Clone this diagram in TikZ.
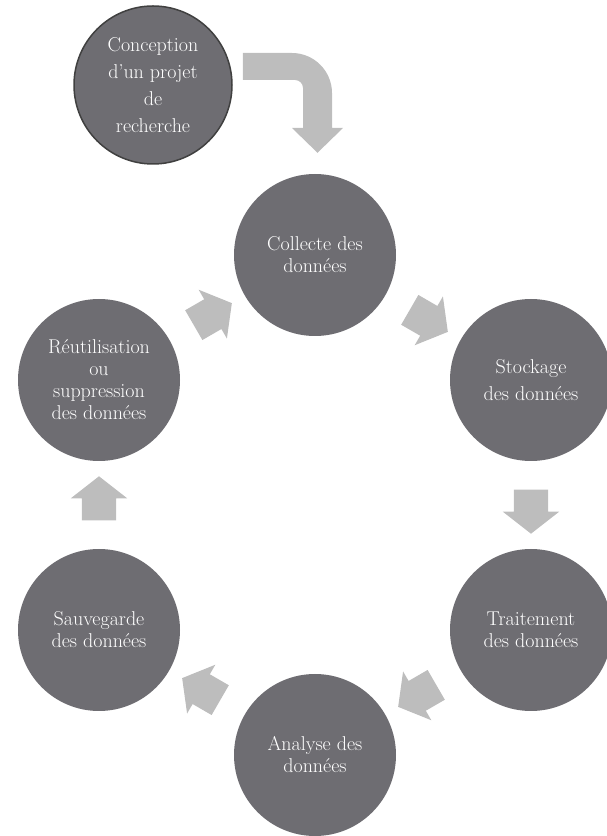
\documentclass[tikz,border=0pt]{standalone}
\usepackage{tikz}
\usetikzlibrary{shapes.arrows}
\usetikzlibrary{calc}
\definecolor{discgray}{HTML}{6E6D72}
\definecolor{arrowgray}{HTML}{BDBDBD}
\definecolor{rimgray}{HTML}{404040}

\begin{document}
\begin{tikzpicture}[x=1pt,y=1pt,
  disc/.style={circle,fill=discgray,minimum size=162pt,inner sep=0pt,text=white,align=center,font=\fontsize{20}{22}\selectfont},
  wide/.style={font=\fontsize{20}{27}\selectfont},
  flow/.style={single arrow,fill=arrowgray,sloped,allow upside down,minimum height=44pt,inner xsep=0pt,inner ysep=17pt,single arrow head extend=11pt,single arrow tip angle=104}]
\useasboundingbox (0,0) rectangle (606,836);
\node[disc,wide,draw=rimgray,line width=1.5pt,minimum size=158pt] (concep) at (153,751) {Conception\\d'un projet\\de\\recherche};
\node[disc] (collecte) at (315,581) {Collecte des\\données};
\node[disc,wide] (stockage) at (531,456) {Stockage\\des données};
\node[disc] (traitement) at (531,206) {Traitement\\des données};
\node[disc] (analyse) at (315,81) {Analyse des\\données};
\node[disc] (sauvegarde) at (99,206) {Sauvegarde\\des données};
\node[disc] (reutil) at (99,456) {Réutilisation\\ou\\suppression\\des données};
\path (collecte) -- node[flow] {} (stockage);
\path (stockage) -- node[flow] {} (traitement);
\path (traitement) -- node[flow] {} (analyse);
\path (analyse) -- node[flow] {} (sauvegarde);
\path (sauvegarde) -- node[flow] {} (reutil);
\path (reutil) -- node[flow] {} (collecte);
\coordinate (bendstart) at ($(concep.east)+(10,32)$);
\coordinate (bendtip) at ($(collecte.north)+(2.5,21)$);
\fill[arrowgray] (bendstart) -- (292,783) .. controls (314,783) and (332,765) .. (332,743) -- (332,708) -- (343,708) -- (bendtip) -- (292,708) -- (303,708) -- (303,748) .. controls (303,752.4) and (299.4,756) .. (295,756) -- (243,756) -- cycle;
\end{tikzpicture}
\end{document}
